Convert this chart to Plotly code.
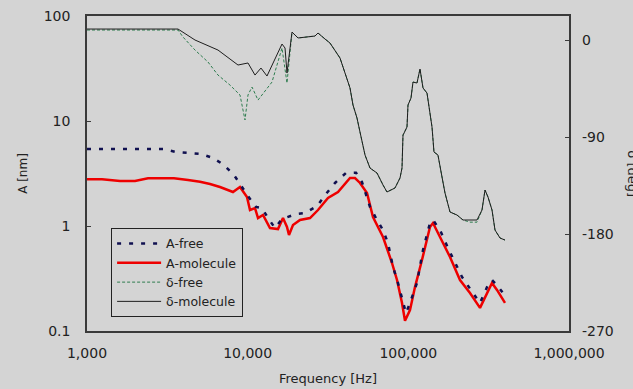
import plotly.graph_objects as go

# ---- data ----
freq_a_free = [1000, 2972, 3581, 4313, 5123, 6085, 7124, 8221, 9088, 10047, 11270, 12282, 13384,
               14794, 16356, 19990, 22740, 27010, 30730, 34960, 40930, 47230, 51480, 57730, 63830,
               69560, 74700, 80270, 86200, 92640, 96700, 102400, 113200, 123400, 136400, 142400,
               157400, 176600, 195200, 215800, 252600, 279300, 308800, 331700, 356200, 388200, 411200]
a_free = [5.41, 5.41, 5.07, 4.96, 4.85, 4.44, 3.81, 3.06, 2.40, 1.93, 1.52, 1.48, 1.19,
          0.957, 1.166, 1.30, 1.33, 1.55, 2.02, 2.57, 3.20, 3.22, 2.62, 1.52, 1.14,
          0.916, 0.689, 0.407, 0.287, 0.185, 0.148, 0.185, 0.287, 0.591, 1.07, 1.14,
          0.916, 0.617, 0.454, 0.327, 0.230, 0.185, 0.262, 0.306, 0.274, 0.230, 0.211]

freq_a_mol = [1000, 1240, 1604, 1990, 2397, 3480, 4253, 5050, 5830, 6727, 8101, 8960, 9904,
              10340, 11110, 11600, 12460, 13770, 15450, 16590, 17570, 18080, 19150, 21170,
              24430, 27400, 31620, 36490, 43350, 46560, 50030, 55310, 60260, 69560, 79130,
              85020, 91340, 95330, 102400, 110000, 121600, 136400, 142400, 157400, 181700,
              209700, 242000, 279300, 308800, 331700, 356200, 399600]
a_mol = [2.785, 2.785, 2.683, 2.683, 2.847, 2.847, 2.742, 2.642, 2.512, 2.352, 2.108, 2.352, 1.889,
         1.420, 1.48, 1.19, 1.273, 0.957, 0.936, 1.19, 0.978, 0.821, 1.022, 1.14,
         1.19, 1.42, 1.848, 2.108, 2.865, 2.865, 2.57, 2.062, 1.218, 0.786, 0.444,
         0.306, 0.185, 0.125, 0.158, 0.262, 0.474, 0.978, 1.068, 0.786, 0.507,
         0.306, 0.230, 0.166, 0.230, 0.287, 0.246, 0.185]

freq_d_mol = [1000, 3685, 4701, 6537, 8707, 10047, 11110, 12100, 13190, 14794, 16356, 17080, 17570,
              18880, 20580, 26240, 27400, 30300, 32540, 37560, 40350, 43350, 45240, 47920, 50030,
              53760, 57730, 63830, 69560, 73640, 82600, 88750, 91340, 92640, 93980, 98100, 99520,
              103900, 106900, 113200, 118200, 123400, 130700, 136400, 140400, 144400, 152900,
              162000, 169100, 181700, 200900, 218900, 242000, 267500, 287400, 300100, 313200,
              331700, 346300, 372000, 399600]
d_mol = [10.2, 10.2, 0.0, -9.3, -23.2, -21.3, -32.5, -26.0, -33.4, -16.7, -3.7, -7.4, -30.6,
         7.4, 1.9, 3.7, 6.5, 0.9, -2.8, -16.7, -29.7, -44.5, -60.3, -72.4, -85.4,
         -106.7, -118.8, -123.4, -134.5, -141.0, -137.3, -128.0, -118.8, -88.1, -86.4, -80.7, -60.3,
         -53.8, -39.0, -39.9, -26.9, -44.5, -49.2, -67.7, -80.7, -103.9, -106.7,
         -127.1, -141.9, -159.6, -162.4, -167.0, -167.0, -167.0, -157.7, -139.2, -145.7,
         -157.7, -176.3, -183.7, -185.6]

freq_d_free = [1000, 3685, 3958, 4701, 5664, 6537, 7762, 8960, 9625, 10047, 10640, 11600, 14170,
               16356, 17570, 18880, 20580, 26240, 27400, 30300, 32540, 37560, 40350, 43350, 45240,
               47920, 50030, 53760, 57730, 63830, 69560, 73640, 82600, 88750, 91340, 92640, 93980,
               98100, 99520, 103900, 106900, 113200, 118200, 123400, 130700, 136400, 140400,
               144400, 152900, 162000, 169100, 181700, 200900, 218900, 242000, 267500, 287400,
               300100, 313200, 331700, 346300, 372000, 399600]
d_free = [9.3, 9.3, 2.8, -9.3, -20.4, -32.5, -41.8, -51.0, -74.2, -51.0, -43.6, -55.7, -39.0,
          -7.4, -39.9, 7.4, 1.9, 3.7, 6.5, 0.9, -2.8, -16.7, -29.7, -44.5, -60.3,
          -72.4, -85.4, -106.7, -118.8, -123.4, -134.5, -141.0, -137.3, -128.0, -118.8, -88.1, -86.4,
          -80.7, -60.3, -53.8, -39.0, -39.9, -26.9, -44.5, -49.2, -67.7, -80.7,
          -103.9, -106.7, -127.1, -141.9, -159.6, -162.4, -167.0, -169.0, -169.0, -157.7,
          -139.2, -145.7, -157.7, -176.3, -183.7, -185.6]

x_tickvals = [1000, 10000, 100000, 1000000]
x_ticktext = ["1,000", "10,000", "100,000", "1,000,000"]
y_tickvals = [0.1, 1, 10, 100]
y_ticktext = ["0.1", "1", "10", "100"]
y2_tickvals = [0, -90, -180, -270]
y2_ticktext = ["0", "-90", "-180", "-270"]

BG = "#d4d4d4"
FONT = "DejaVu Sans"
TXT = "#222222"
AX = "#3a3a3a"

fig = go.Figure()
fig.add_trace(go.Scatter(x=freq_a_mol, y=a_mol, name="A-molecule", mode="lines",
                         line=dict(color="#ee0000", width=2.5), legendrank=2))
fig.add_trace(go.Scatter(x=freq_a_free, y=a_free, name="A-free", mode="lines",
                         line=dict(color="#101050", width=2.5, dash="4px,8px"), legendrank=1))
fig.add_trace(go.Scatter(x=freq_d_free, y=d_free, name="δ-free", mode="lines", yaxis="y2",
                         line=dict(color="#2e7d4f", width=1, dash="3px,2px"), legendrank=3))
fig.add_trace(go.Scatter(x=freq_d_mol, y=d_mol, name="δ-molecule", mode="lines", yaxis="y2",
                         line=dict(color="#1e1e1e", width=1), legendrank=4))

fig.update_layout(
    width=633, height=389,
    margin=dict(l=87, r=64, t=16, b=58, autoexpand=False),
    paper_bgcolor=BG, plot_bgcolor=BG,
    font=dict(family=FONT, size=14, color=TXT),
    showlegend=True,
    legend=dict(x=0.05, y=0.327, xanchor="left", yanchor="top",
                bgcolor=BG, bordercolor="#222222", borderwidth=1,
                font=dict(family=FONT, size=12.5, color=TXT),
                tracegroupgap=0, itemwidth=44),
    xaxis=dict(type="log", range=[3, 6], tickvals=x_tickvals, ticktext=x_ticktext,
               showgrid=False, zeroline=False, showline=True, mirror=True, automargin=False,
               linecolor=AX, linewidth=1.5, ticks="", ticklabelstandoff=8,
               title=dict(text="Frequency [Hz]", font=dict(size=13), standoff=14)),
    yaxis=dict(type="log", range=[-1, 2], tickvals=y_tickvals, ticktext=y_ticktext,
               showgrid=False, zeroline=False, showline=True, mirror=True, automargin=False,
               linecolor=AX, linewidth=1.5, ticks="inside", ticklen=4, tickcolor=AX,
               ticklabelstandoff=12,
               title=dict(text="A [nm]", font=dict(size=12), standoff=14)),
    yaxis2=dict(overlaying="y", side="right", range=[-270, 22.3], automargin=False,
                tickvals=y2_tickvals, ticktext=y2_ticktext,
                showgrid=False, zeroline=False, showline=False,
                ticks="inside", ticklen=4, tickcolor=AX, ticklabelstandoff=12),
    annotations=[dict(text="δ [deg]", xref="paper", yref="paper", x=1.131, y=0.5,
                      textangle=90, showarrow=False, xanchor="center", yanchor="middle",
                      font=dict(family=FONT, size=13, color=TXT))],
)

fig.write_html("out.html",
               config={"displayModeBar": False},
               post_script="document.body.style.margin='0';"
                           "document.body.style.background='#d4d4d4';"
                           "document.body.style.overflow='hidden';")
